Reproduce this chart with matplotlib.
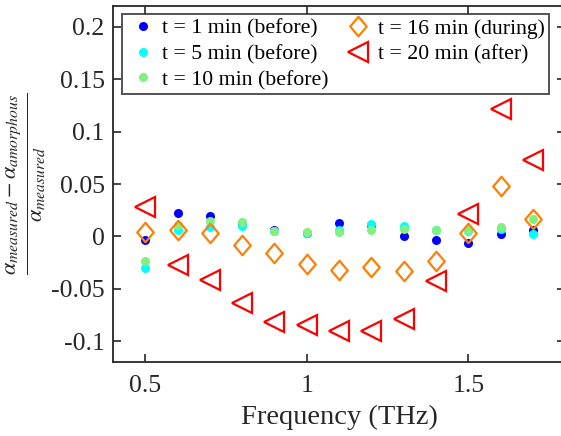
import matplotlib
matplotlib.use("Agg")
import matplotlib.pyplot as plt
from matplotlib.path import Path

plt.rcParams['font.family'] = ['Liberation Serif', 'DejaVu Serif']
plt.rcParams['mathtext.fontset'] = 'stix'

freq = [0.5, 0.6, 0.7, 0.8, 0.9, 1.0, 1.1, 1.2, 1.3, 1.4, 1.5, 1.6, 1.7]

t1_before = [-0.003, 0.022, 0.019, 0.013, 0.006, 0.003, 0.013, 0.011, 0.000, -0.003, -0.006, 0.002, 0.006]
t5_before = [-0.030, 0.006, 0.009, 0.010, 0.005, 0.003, 0.006, 0.012, 0.010, 0.006, 0.005, 0.007, 0.002]
t10_before = [-0.024, 0.011, 0.015, 0.0135, 0.005, 0.004, 0.004, 0.006, 0.007, 0.006, 0.006, 0.009, 0.017]
t16_during = [0.004, 0.006, 0.003, -0.008, -0.016, -0.026, -0.032, -0.029, -0.033, -0.024, 0.003, 0.048, 0.017]
t20_after = [0.028, -0.027, -0.042, -0.064, -0.082, -0.085, -0.090, -0.090, -0.079, -0.043, 0.021, 0.122, 0.073]

labels = ['t = 1 min (before)', 't = 5 min (before)', 't = 10 min (before)',
          't = 16 min (during)', 't = 20 min (after)']

# MATLAB style diamond (a bit wider than matplotlib's thin diamond)
diamond = Path([(0, 1), (0.85, 0), (0, -1), (-0.85, 0), (0, 1)],
               [Path.MOVETO, Path.LINETO, Path.LINETO, Path.LINETO, Path.CLOSEPOLY])

fig = plt.figure(figsize=(5.61, 4.36), dpi=100)
ax = fig.add_axes([0.2014, 0.1697, 0.806, 0.8165])

ax.plot(freq, t1_before, 'o', color='#0000ff', ms=6.5, mec='none', label=labels[0])
ax.plot(freq, t5_before, 'o', color='#00ffff', ms=6.5, mec='none', label=labels[1])
ax.plot(freq, t10_before, 'o', color='#80f080', ms=6.5, mec='none', label=labels[2])
ax.plot(freq, t16_during, ls='none', marker=diamond, ms=14, mfc='none',
        mec='#ff8000', mew=1.6, label=labels[3])
ax.plot(freq, t20_after, ls='none', marker='<', ms=15, mfc='none',
        mec='#ff0000', mew=1.6, label=labels[4])

ax.set_xlim(0.4, 1.8)
ax.set_ylim(-0.12, 0.22)
ax.set_xticks([0.5, 1, 1.5])
ax.set_xticklabels(['0.5', '1', '1.5'])
ax.set_yticks([-0.1, -0.05, 0, 0.05, 0.1, 0.15, 0.2])
ax.set_yticklabels(['-0.1', '-0.05', '0', '0.05', '0.1', '0.15', '0.2'])

ax.tick_params(direction='in', top=True, right=True, length=6, width=1.2,
               labelsize=18.5, colors='#262626')
ax.tick_params(axis='x', pad=9)
ax.tick_params(axis='y', pad=6)
for s in ax.spines.values():
    s.set_linewidth(1.3)
    s.set_color('#262626')

ax.set_xlabel('Frequency (THz)', fontsize=20.5, color='#262626', labelpad=6)
ax.set_ylabel(r'$\frac{\alpha_{measured} - \alpha_{amorphous}}{\alpha_{measured}}$',
              fontsize=23, color='#262626', labelpad=2)

leg = ax.legend(ncol=2, loc='upper left', bbox_to_anchor=(0.02, 0.9775),
                borderaxespad=0, fontsize=15.7, frameon=True, fancybox=False,
                handletextpad=0.15, columnspacing=0.6, labelspacing=0.25,
                handlelength=1.5, borderpad=0.2)
leg.get_frame().set_edgecolor('#262626')
leg.get_frame().set_linewidth(1.4)

fig.savefig('out.png', dpi=100)
